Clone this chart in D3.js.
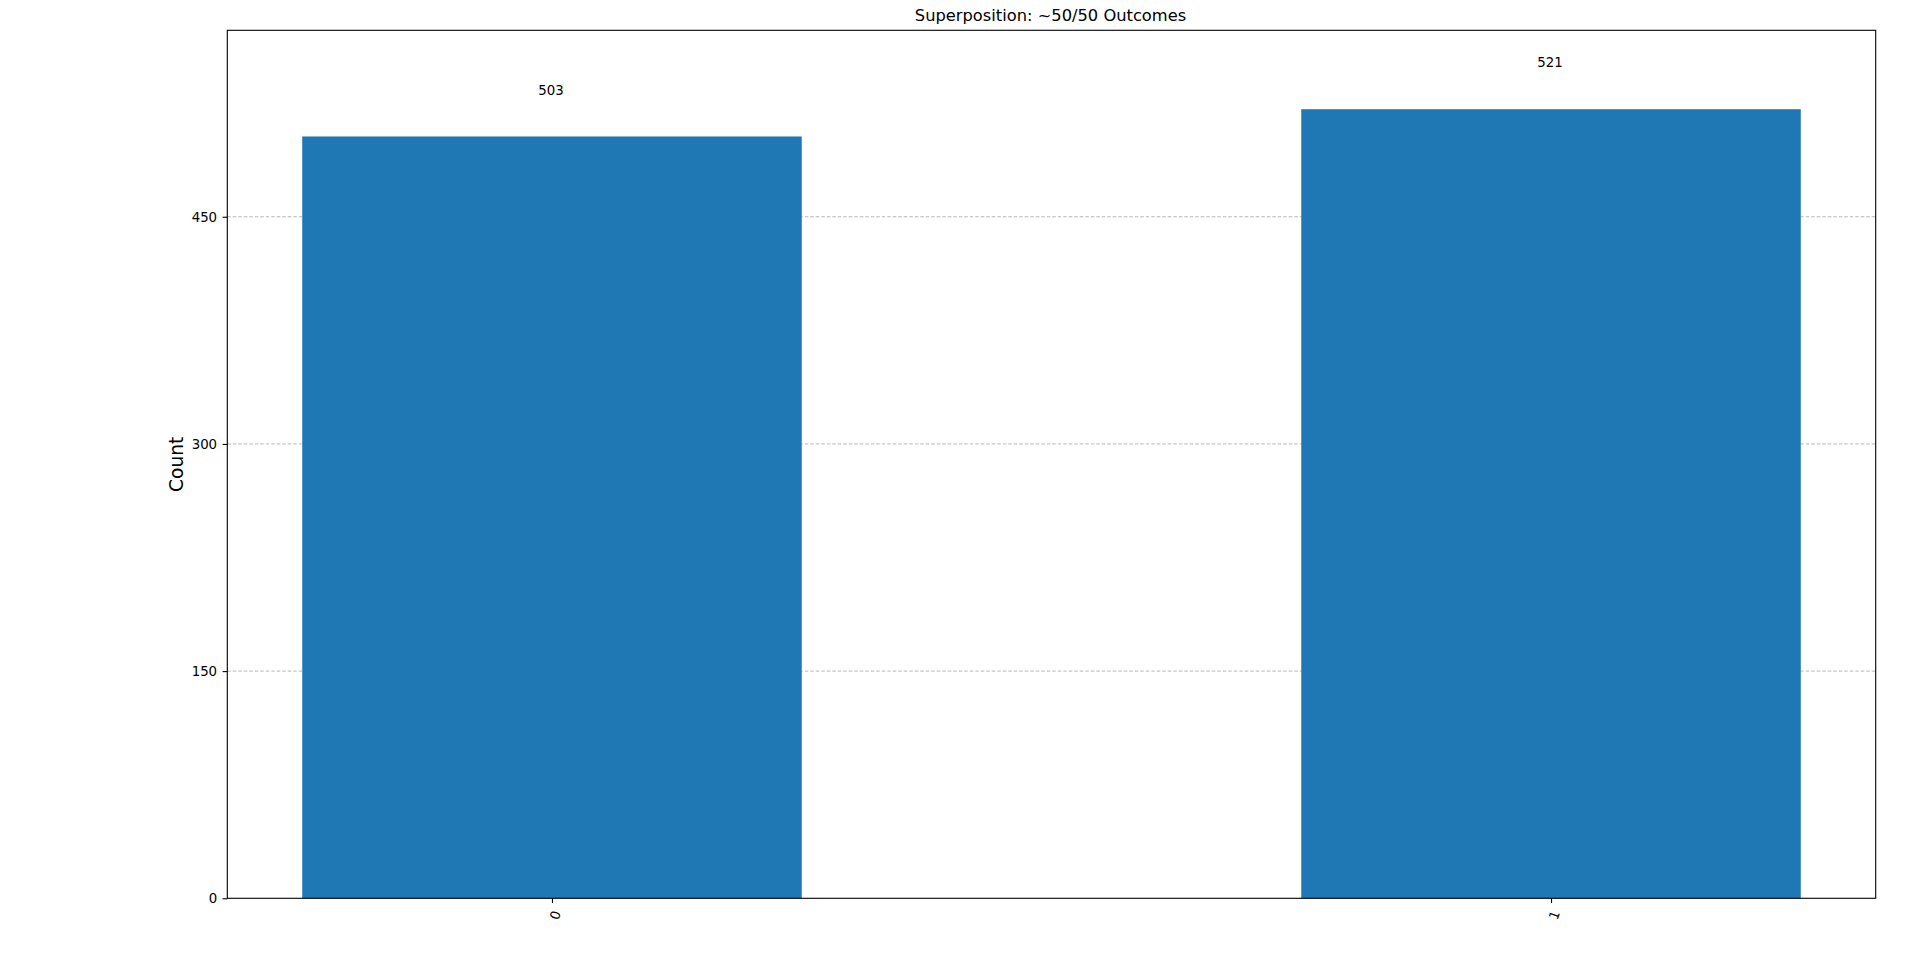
<!DOCTYPE html>
<html>
<head>
<meta charset="utf-8">
<script src="https://cdn.jsdelivr.net/npm/d3@7"></script>
<style>
  html, body { margin: 0; padding: 0; background: #fff; }
  svg { display: block; font-family: "DejaVu Sans", sans-serif; }
</style>
</head>
<body>
<svg id="chart" width="1920" height="975"></svg>
<script>
const categories = ["0", "1"];
const counts = [503, 521];
const yTicks = [0, 150, 300, 450];
const title = "Superposition: ~50/50 Outcomes";
const yLabel = "Count";

const W = 1920, H = 975;
const plot = { left: 227.3, right: 1875.7, top: 30.3, bottom: 898.3 };
const barWidth = 0.5;

const svg = d3.select("#chart");

const span = categories.length - 1 + barWidth;
const x = d3.scaleLinear()
  .domain([-barWidth / 2 - 0.05 * span, categories.length - 1 + barWidth / 2 + 0.05 * span])
  .range([plot.left, plot.right]);
const y = d3.scaleLinear()
  .domain([0, d3.max(counts) * 1.1])
  .range([plot.bottom, plot.top]);

// grid
svg.append("g").selectAll("line")
  .data(yTicks.filter(t => t > 0))
  .join("line")
  .attr("x1", plot.left).attr("x2", plot.right)
  .attr("y1", d => y(d)).attr("y2", d => y(d))
  .attr("stroke", "#b0b0b0")
  .attr("stroke-width", 0.9)
  .attr("stroke-dasharray", "3.5,2");

// bars
svg.append("g").selectAll("rect")
  .data(counts)
  .join("rect")
  .attr("x", (d, i) => x(i - barWidth / 2))
  .attr("width", (d, i) => x(i + barWidth / 2) - x(i - barWidth / 2))
  .attr("y", d => y(d))
  .attr("height", d => y(0) - y(d))
  .attr("fill", "#1f77b4");

// value labels
svg.append("g").selectAll("text")
  .data(counts)
  .join("text")
  .attr("x", (d, i) => x(i) - 1)
  .attr("y", d => y(d * 1.05) - 3)
  .attr("text-anchor", "middle")
  .attr("font-size", "13.33px")
  .attr("fill", "#000")
  .text(d => d);

// frame
svg.append("rect")
  .attr("x", plot.left).attr("y", plot.top)
  .attr("width", plot.right - plot.left).attr("height", plot.bottom - plot.top)
  .attr("fill", "none").attr("stroke", "#000").attr("stroke-width", 1.1);

// y axis
const yAxis = d3.axisLeft(y).tickValues(yTicks).tickSize(4.7).tickPadding(5.5);
const gy = svg.append("g").attr("transform", `translate(${plot.left},0)`).call(yAxis);
gy.select(".domain").remove();
gy.selectAll(".tick line").attr("stroke", "#000").attr("stroke-width", 1.1);
gy.selectAll(".tick text").attr("font-size", "13.33px").attr("fill", "#000")
  .attr("font-family", "DejaVu Sans, sans-serif");

// x axis
const xAxis = d3.axisBottom(x).tickValues(categories.map((c, i) => i))
  .tickFormat(i => categories[i]).tickSize(4.7);
const gx = svg.append("g").attr("transform", `translate(0,${plot.bottom})`).call(xAxis);
gx.select(".domain").remove();
gx.selectAll(".tick line").attr("stroke", "#000").attr("stroke-width", 1.1);
gx.selectAll(".tick text")
  .attr("font-size", "13.33px").attr("fill", "#000")
  .attr("font-family", "DejaVu Sans, sans-serif")
  .attr("y", 0).attr("dy", null)
  .attr("dominant-baseline", "central")
  .attr("text-anchor", "middle")
  .attr("transform", "translate(3,17) rotate(-70)");

// title
svg.append("text")
  .attr("x", (plot.left + plot.right) / 2 - 1)
  .attr("y", 20.5)
  .attr("text-anchor", "middle")
  .attr("font-size", "16.3px")
  .attr("fill", "#000")
  .text(title);

// y label
svg.append("text")
  .attr("transform", `translate(183,${(plot.top + plot.bottom) / 2}) rotate(-90)`)
  .attr("text-anchor", "middle")
  .attr("font-size", "18.67px")
  .attr("fill", "#000")
  .text(yLabel);
</script>
</body>
</html>
